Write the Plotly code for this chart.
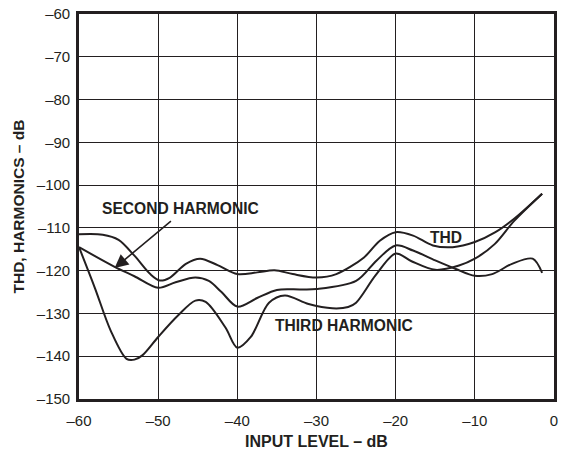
import plotly.graph_objects as go

# Input level (dB) and levels (dB)
thd_x = [-60, -57, -55, -53, -51, -49.8, -48.5, -46.5, -44.7, -42.5, -40, -37.5, -35.3, -33, -30,
         -27.5, -24, -22, -20, -17.8, -15.3, -12.8, -10, -7.4, -5, -1.5]
thd_y = [-111.5, -111.6, -112.8, -116.5, -120.8, -122.3, -121.6, -118.4, -117.2, -118.7, -120.8,
         -120.4, -119.9, -120.8, -121.6, -120.8, -116.9, -113.0, -111.0, -111.8, -114.1, -114.5,
         -113.3, -111.0, -107.8, -102.0]

second_x = [-60, -55.5, -53, -50, -47.8, -45.3, -43.6, -42, -40, -37.5, -35, -32, -30, -25, -22.4,
            -20, -17.8, -15, -12.4, -10, -7.8, -5.3, -2.7, -1.5]
second_y = [-114.5, -119.1, -121.3, -124.0, -122.7, -121.6, -122.4, -125.0, -128.4, -126.4, -124.5,
            -124.4, -124.3, -122.4, -117.6, -114.1, -115.3, -117.6, -119.6, -121.2, -120.8, -118.4,
            -117.2, -120.5]

third_x = [-60, -58, -56, -54, -53, -52, -50, -47.5, -45.3, -44, -41.5, -40, -38.3, -36, -34, -31,
           -28, -26, -25, -22.5, -20, -18, -15, -12, -10, -7.5, -5, -1.5]
third_y = [-114.5, -124.0, -134.0, -140.6, -140.8, -139.8, -135.5, -130.5, -127.0, -127.3, -133.3,
           -138.0, -135.5, -127.5, -125.8, -127.8, -128.8, -128.5, -127.5, -121.0, -116.0, -117.8,
           -119.8, -118.8, -117.2, -113.8, -108.3, -102.0]

x_ticks = [-60, -50, -40, -30, -20, -10, 0]
y_ticks = [-150, -140, -130, -120, -110, -100, -90, -80, -70, -60]

INK = "#231f20"
FONT = "Liberation Sans, Arial, sans-serif"

fig = go.Figure()
for xs, ys, name in [(thd_x, thd_y, "THD"), (second_x, second_y, "SECOND HARMONIC"),
                     (third_x, third_y, "THIRD HARMONIC")]:
    fig.add_trace(go.Scatter(x=xs, y=ys, mode="lines", name=name,
                             line=dict(color=INK, width=2.0, shape="spline", smoothing=0.9),
                             showlegend=False, hoverinfo="skip"))

axis_common = dict(showgrid=True, gridcolor=INK, gridwidth=1.3, showline=True, linecolor=INK,
                   linewidth=2.6, mirror=True, ticks="", zeroline=False,
                   tickfont=dict(family=FONT, size=15, color=INK))

fig.update_xaxes(range=[-60, 0], tickvals=x_ticks,
                 ticktext=[("\u2013" + str(abs(v))) if v < 0 else str(v) for v in x_ticks],
                 ticklabelstandoff=6, **axis_common)
fig.update_yaxes(range=[-150, -60], tickvals=y_ticks,
                 ticktext=["\u2013" + str(abs(v)) for v in y_ticks],
                 ticklabelstandoff=3, **axis_common)

bold = dict(family=FONT, size=15.6, color=INK)
fig.add_annotation(x=-47.2, y=-105.4, text="<b>SECOND HARMONIC</b>", showarrow=False, font=bold)
fig.add_annotation(x=-26.5, y=-132.9, text="<b>THIRD HARMONIC</b>", showarrow=False, font=bold)
fig.add_annotation(x=-13.6, y=-112.2, text="<b>THD</b>", showarrow=False, font=bold)
fig.add_annotation(x=-55.5, y=-119.4, ax=-48.2, ay=-108.1, xref="x", yref="y", axref="x", ayref="y",
                   text="", showarrow=True, arrowhead=2, arrowsize=1.7, arrowwidth=1.6,
                   arrowcolor=INK)

fig.add_annotation(xref="paper", yref="paper", x=0.5, y=0, yshift=-42, yanchor="middle",
                   text="<b>INPUT LEVEL \u2013 dB</b>", showarrow=False,
                   font=dict(family=FONT, size=16, color=INK))
fig.add_annotation(xref="paper", yref="paper", x=0, y=0.5, xshift=-61, xanchor="center",
                   yanchor="middle", textangle=-90, text="<b>THD, HARMONICS \u2013 dB</b>",
                   showarrow=False, font=dict(family=FONT, size=15.5, color=INK))

fig.update_layout(width=563, height=452, autosize=False, margin=dict(l=79, r=5, t=14, b=53),
                  plot_bgcolor="white", paper_bgcolor="white",
                  font=dict(family=FONT, color=INK))

fig.write_html("out.html", config={"displayModeBar": False},
               post_script="document.body.style.margin='0px';"
                           "document.body.style.overflow='hidden';")
